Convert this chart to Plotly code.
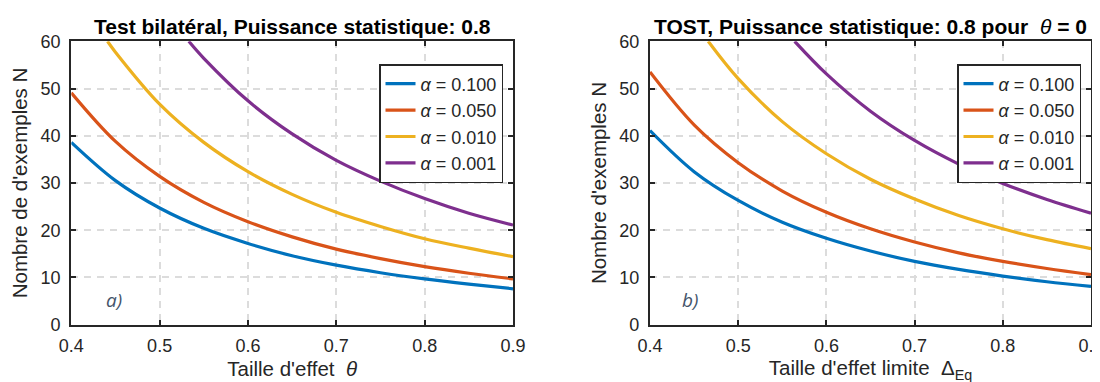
import plotly.graph_objects as go

# ---------------- data ----------------
alphas = ["0.100", "0.050", "0.010", "0.001"]
colors = ["#0072BD", "#D95319", "#EDB120", "#7E2F8E"]

x_full = [0.40, 0.45, 0.50, 0.55, 0.60, 0.65, 0.70, 0.75, 0.80, 0.85, 0.90]

# left panel: two-sided test
left_x = [
    x_full,
    x_full,
    [0.441, 0.45, 0.50, 0.55, 0.60, 0.65, 0.70, 0.75, 0.80, 0.85, 0.90],
    [0.533, 0.55, 0.60, 0.65, 0.70, 0.75, 0.80, 0.85, 0.90],
]
left_y = [
    [38.6, 30.5, 24.7, 20.4, 17.2, 14.6, 12.6, 11.0, 9.7, 8.6, 7.6],
    [49.1, 38.8, 31.4, 25.9, 21.8, 18.6, 16.0, 14.0, 12.3, 10.9, 9.7],
    [60.0, 57.7, 46.7, 38.6, 32.4, 27.6, 23.8, 20.8, 18.2, 16.2, 14.4],
    [60.0, 56.4, 47.4, 40.4, 34.8, 30.4, 26.7, 23.6, 21.1],
]

# right panel: TOST
right_x = [
    x_full,
    x_full,
    [0.466, 0.50, 0.55, 0.60, 0.65, 0.70, 0.75, 0.80, 0.85, 0.90],
    [0.564, 0.60, 0.65, 0.70, 0.75, 0.80, 0.85, 0.90],
]
right_y = [
    [41.1, 32.4, 26.3, 21.7, 18.3, 15.6, 13.4, 11.7, 10.3, 9.1, 8.1],
    [53.5, 42.3, 34.3, 28.3, 23.8, 20.3, 17.5, 15.2, 13.4, 11.9, 10.6],
    [60.0, 52.1, 43.0, 36.2, 30.8, 26.6, 23.1, 20.3, 18.0, 16.1],
    [60.0, 53.1, 45.2, 39.0, 34.0, 29.9, 26.5, 23.6],
]

x_ticks = [0.4, 0.5, 0.6, 0.7, 0.8, 0.9]
y_ticks = [0, 10, 20, 30, 40, 50, 60]

FONT = "Liberation Sans, Arial, sans-serif"
W, H = 1100, 382

fig = go.Figure()

for i in range(4):
    fig.add_trace(go.Scatter(
        x=left_x[i], y=left_y[i], mode="lines", line_shape="spline",
        line=dict(color=colors[i], width=3.2),
        name=f"<i>α</i> = {alphas[i]}", xaxis="x", yaxis="y", legend="legend",
    ))
for i in range(4):
    fig.add_trace(go.Scatter(
        x=right_x[i], y=right_y[i], mode="lines", line_shape="spline",
        line=dict(color=colors[i], width=3.2),
        name=f"<i>α</i> = {alphas[i]}", xaxis="x2", yaxis="y2", legend="legend2",
    ))

def px_x(p):
    return p / W

def px_y(p):
    return 1 - p / H

L1, R1 = 63.3, 505
L2, R2 = 642, 1083
TOP, BOT = 33.3, 316.7

ydom = [px_y(BOT), px_y(TOP)]
common_axis = dict(
    showline=True, linecolor="#262626", linewidth=2.2, mirror="ticks",
    ticks="inside", ticklen=5, tickwidth=2, tickcolor="#262626",
    showgrid=True, gridcolor="#dcdcdc", griddash="7px,6px", gridwidth=1.5,
    zeroline=False, automargin=False,
    tickfont=dict(family=FONT, size=18, color="#262626"),
)

legend_common = dict(
    xanchor="right", yanchor="top",
    bgcolor="white", bordercolor="#262626", borderwidth=1.5,
    font=dict(family=FONT, size=18, color="#262626"),
    tracegroupgap=0, itemwidth=30,
)

fig.update_layout(
    width=W, height=H,
    margin=dict(l=0, r=0, t=0, b=0, autoexpand=False),
    paper_bgcolor="white", plot_bgcolor="white",
    font=dict(family=FONT, color="#262626"),
    xaxis=dict(domain=[px_x(L1), px_x(R1)], range=[0.4, 0.9], tickvals=x_ticks,
               ticktext=[f"{v:.1f}" for v in x_ticks], anchor="y", ticklabelstandoff=4,
               title=dict(text="Taille d'effet  <i>θ</i>", font=dict(size=20.5), standoff=6),
               **common_axis),
    yaxis=dict(domain=ydom, range=[0, 60], tickvals=y_ticks, anchor="x", ticklabelstandoff=5,
               title=dict(text="Nombre de d'exemples N", font=dict(size=20.5), standoff=7),
               **common_axis),
    xaxis2=dict(domain=[px_x(L2), px_x(R2)], range=[0.4, 0.9], tickvals=x_ticks,
                ticktext=[f"{v:.1f}" for v in x_ticks], anchor="y2", ticklabelstandoff=4,
                title=dict(text="Taille d'effet limite  Δ<sub>Eq</sub>", font=dict(size=20.5), standoff=4),
                **common_axis),
    yaxis2=dict(domain=ydom, range=[0, 60], tickvals=y_ticks, anchor="x2", ticklabelstandoff=5,
                title=dict(text="Nombre d'exemples N", font=dict(size=20.5), standoff=7),
                **common_axis),
    legend=dict(x=px_x(495), y=px_y(56), **legend_common),
    legend2=dict(x=px_x(1073), y=px_y(56), **legend_common),
    showlegend=True,
)

fig.add_annotation(text="<b>Test bilatéral, Puissance statistique: 0.8</b>",
                   xref="paper", yref="paper", x=px_x((L1 + R1) / 2), y=px_y(19),
                   xanchor="center", yanchor="middle",
                   showarrow=False, font=dict(family=FONT, size=21, color="black"))
fig.add_annotation(text="<b>TOST, Puissance statistique: 0.8 pour </b> <i>θ</i> <b>= 0</b>",
                   xref="paper", yref="paper", x=px_x((L2 + R2) / 2), y=px_y(19),
                   xanchor="center", yanchor="middle",
                   showarrow=False, font=dict(family=FONT, size=21, color="black"))

fig.add_annotation(text="<i>a)</i>", xref="x", yref="y", x=0.448, y=5.2,
                   showarrow=False, font=dict(family="Open Sans", size=19, color="#44546A"))
fig.add_annotation(text="<i>b)</i>", xref="x2", yref="y2", x=0.445, y=5.2,
                   showarrow=False, font=dict(family="Open Sans", size=19, color="#44546A"))

fig.write_html("out.html")
